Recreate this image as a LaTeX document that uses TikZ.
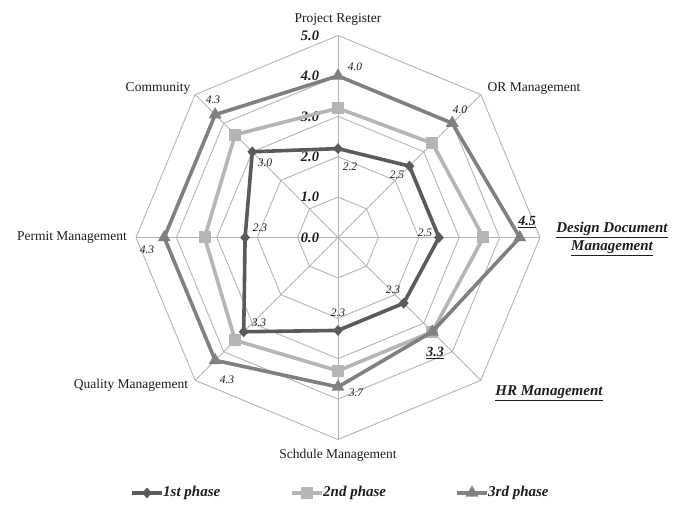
\documentclass[tikz,border=0pt]{standalone}
\usepackage{fontspec}
\setmainfont{Liberation Serif}
\usetikzlibrary{calc,shapes.geometric}
\definecolor{gridc}{HTML}{B4B4B4}
\definecolor{pone}{HTML}{5A5A5A}
\definecolor{ptwo}{HTML}{B5B5B5}
\definecolor{pthree}{HTML}{808080}
\definecolor{txt}{HTML}{1E1E1E}
\begin{document}
\begin{tikzpicture}[x=1pt,y=1pt,
  gridline/.style={draw=gridc,line width=0.9pt},
  serone/.style={draw=pone,line width=3.6pt,line join=miter},
  sertwo/.style={draw=ptwo,line width=3.6pt,line join=miter},
  serthree/.style={draw=pthree,line width=3.6pt,line join=miter},
  mkone/.style={diamond,fill=pone,minimum width=10pt,minimum height=11pt,inner sep=0pt},
  mktwo/.style={rectangle,fill=ptwo,minimum size=12pt,inner sep=0pt},
  mkthree/.style={regular polygon,regular polygon sides=3,fill=pthree,minimum size=15pt,inner sep=0pt},
  axlab/.style={font=\fontsize{13.5}{15}\selectfont,text=txt,inner sep=0pt},
  axbold/.style={font=\fontsize{15}{18}\selectfont\bfseries\itshape,text=txt,inner sep=0pt,align=center},
  sclab/.style={font=\fontsize{14.5}{16}\selectfont\bfseries\itshape,text=txt,inner sep=0pt},
  dlab/.style={font=\fontsize{11.5}{13}\selectfont\itshape,text=txt,inner sep=0pt},
  dbold/.style={font=\fontsize{14}{16}\selectfont\bfseries\itshape,text=txt,inner sep=0pt},
  leglab/.style={font=\fontsize{15}{17}\selectfont\bfseries\itshape,text=txt,inner sep=0pt,anchor=west}
]
\useasboundingbox (0,0) rectangle (686,505);
\fill[white] (0,0) rectangle (686,505);
\coordinate (C) at (338,267.5);
\def\u{40.4}
% grid octagons
\foreach \k in {1,...,5}{
  \draw[gridline] ($(C)+(90:{\k*\u})$)
    \foreach \a in {45,0,-45,-90,-135,180,135}{ -- ($(C)+(\a:{\k*\u})$) } -- cycle;
}
% spokes
\foreach \a in {90,45,0,-45,-90,-135,180,135}{
  \coordinate (s\a) at ($(C)+(\a:{5*\u})$);
  \draw[gridline] (C) -- (s\a);
}
% scale labels
\foreach \k in {0,...,5}{
  \node[sclab] (sc\k) at (310,{267.5+\k*\u}) {\k.0};
}
% series 1
\foreach \v [count=\i from 0] in {2.2,2.5,2.5,2.3,2.3,3.3,2.3,3.0}{
  \coordinate (a\i) at ($(C)+({90-45*\i}:{\v*\u})$);
}
% series 2
\foreach \v [count=\i from 0] in {3.2,3.3,3.6,3.3,3.3,3.6,3.3,3.6}{
  \coordinate (b\i) at ($(C)+({90-45*\i}:{\v*\u})$);
}
% series 3
\foreach \v [count=\i from 0] in {4.0,4.0,4.5,3.3,3.7,4.3,4.3,4.3}{
  \coordinate (c\i) at ($(C)+({90-45*\i}:{\v*\u})$);
}
\draw[serone] (a0)--(a1)--(a2)--(a3)--(a4)--(a5)--(a6)--(a7)--cycle;
\foreach \i in {0,...,7}{ \node[mkone] (ma\i) at (a\i) {}; }
\draw[sertwo] (b0)--(b1)--(b2)--(b3)--(b4)--(b5)--(b6)--(b7)--cycle;
\foreach \i in {0,...,7}{ \node[mktwo] (mb\i) at (b\i) {}; }
\draw[serthree] (c0)--(c1)--(c2)--(c3)--(c4)--(c5)--(c6)--(c7)--cycle;
\foreach \i in {0,...,7}{ \node[mkthree] (mc\i) at (c\i) {}; }
% data labels series 1
\node[dlab] (la0) at (350,338) {2.2};
\node[dlab] (la1) at (397,330) {2.5};
\node[dlab] (la2) at (425,272) {2.5};
\node[dlab] (la3) at (393,215) {2.3};
\node[dlab] (la4) at (338,192) {2.3};
\node[dlab] (la5) at (259,182) {3.3};
\node[dlab] (la6) at (260,277) {2.3};
\node[dlab] (la7) at (265,342) {3.0};
% data labels series 3
\node[dlab] (lc0) at (355,438) {4.0};
\node[dlab] (lc1) at (460,395) {4.0};
\node[dbold] (lc2) at (527,283) {\underline{4.5}};
\node[dbold] (lc3) at (435,152) {\underline{3.3}};
\node[dlab] (lc4) at (356,112) {3.7};
\node[dlab] (lc5) at (227,125) {4.3};
\node[dlab] (lc6) at (147,255) {4.3};
\node[dlab] (lc7) at (213,405) {4.3};
% axis labels
\node[axlab] (ax0) at (338,486) {Project Register};
\node[axlab] (ax1) at (534,417) {OR Management};
\node[axbold] (ax2) at (612,266) {\underline{Design Document}\\\underline{Management}};
\node[axbold] (ax3) at (549,112) {\underline{HR Management}};
\node[axlab] (ax4) at (338,50) {Schdule Management};
\node[axlab] (ax5) at (131,120) {Quality Management};
\node[axlab] (ax6) at (72,268) {Permit Management};
\node[axlab] (ax7) at (158,417) {Community};
% legend
\coordinate (l1a) at (132,12); \coordinate (l1b) at (162,12);
\draw[serone] (l1a) -- (l1b);
\node[mkone] (lm1) at (147,12) {};
\node[leglab] (lt1) at (163,12) {1st phase};
\coordinate (l2a) at (292,12); \coordinate (l2b) at (322,12);
\draw[sertwo] (l2a) -- (l2b);
\node[mktwo] (lm2) at (307,12) {};
\node[leglab] (lt2) at (323,12) {2nd phase};
\coordinate (l3a) at (457,12); \coordinate (l3b) at (487,12);
\draw[serthree] (l3a) -- (l3b);
\node[mkthree] (lm3) at (472,12) {};
\node[leglab] (lt3) at (488,12) {3rd phase};
\end{tikzpicture}
\end{document}
